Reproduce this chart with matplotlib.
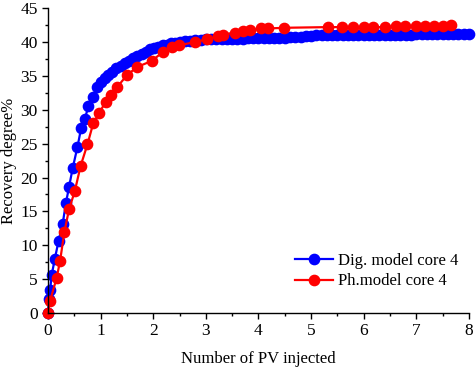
import numpy as np
import matplotlib.pyplot as plt
from matplotlib.ticker import MultipleLocator

plt.rcParams['font.family'] = ['Liberation Serif', 'DejaVu Serif']

# Dig. model core 4 (blue)
pv_dig = [0.0, 0.02, 0.04, 0.07, 0.13, 0.20, 0.28, 0.34, 0.40, 0.47, 0.56, 0.63,
          0.70, 0.77, 0.86, 0.94, 1.00, 1.08, 1.15, 1.22, 1.30, 1.38, 1.46, 1.54,
          1.62, 1.70, 1.78, 1.86, 1.94, 2.02, 2.10, 2.18, 2.26, 2.34, 2.42, 2.50,
          2.60, 2.70, 2.80, 2.90,
          3.0, 3.1, 3.2, 3.3, 3.4, 3.5, 3.6, 3.7, 3.8, 3.9, 4.0, 4.1, 4.2, 4.3,
          4.4, 4.5, 4.6, 4.7, 4.8, 4.9, 5.0, 5.1, 5.2, 5.3, 5.4, 5.5, 5.6, 5.7,
          5.8, 5.9, 6.0, 6.1, 6.2, 6.3, 6.4, 6.5, 6.6, 6.7, 6.8, 6.9, 7.0, 7.1,
          7.2, 7.3, 7.4, 7.5, 7.6, 7.7, 7.8, 7.9, 8.0]
rd_dig = [0.0, 2.0, 3.4, 5.6, 8.0, 10.6, 13.2, 16.2, 18.6, 21.4, 24.5, 27.3,
          28.7, 30.5, 31.9, 33.3, 34.1, 34.7, 35.2, 35.6, 36.1, 36.5, 36.9, 37.2,
          37.6, 38.0, 38.3, 38.6, 38.9, 39.1, 39.3, 39.5, 39.6, 39.8, 39.9, 40.0,
          40.1, 40.2, 40.3, 40.3,
          40.4, 40.4, 40.5, 40.5, 40.5, 40.5, 40.5, 40.5, 40.6, 40.6, 40.6, 40.6,
          40.6, 40.6, 40.6, 40.6, 40.7, 40.7, 40.8, 40.9, 40.9, 41.0, 41.0, 41.0,
          41.0, 41.0, 41.0, 41.0, 41.0, 41.0, 41.1, 41.1, 41.1, 41.1, 41.1, 41.1,
          41.1, 41.1, 41.1, 41.1, 41.2, 41.2, 41.2, 41.2, 41.2, 41.2, 41.2, 41.2,
          41.2, 41.2, 41.2]

# Ph.model core 4 (red)
pv_ph = [0.0, 0.04, 0.165, 0.23, 0.31, 0.40, 0.51, 0.62, 0.75, 0.86, 0.97, 1.10,
         1.20, 1.31, 1.50, 1.69, 1.97, 2.18, 2.35, 2.49, 2.79, 3.03, 3.24, 3.33,
         3.56, 3.71, 3.84, 4.04, 4.19, 4.49, 5.33, 5.58, 5.79, 6.01, 6.17, 6.41,
         6.62, 6.79, 7.00, 7.17, 7.33, 7.50, 7.66]
rd_ph = [0.0, 1.8, 5.2, 7.7, 11.9, 15.3, 18.0, 21.7, 24.9, 28.0, 29.5, 31.2,
         32.2, 33.3, 35.1, 36.3, 37.2, 38.5, 39.2, 39.5, 40.0, 40.4, 40.9, 41.1,
         41.4, 41.6, 41.7, 42.0, 42.0, 42.1, 42.2, 42.2, 42.2, 42.2, 42.2, 42.2,
         42.3, 42.3, 42.4, 42.4, 42.4, 42.4, 42.5]

fig = plt.figure(figsize=(4.77, 3.70), dpi=100, facecolor='white')
ax = fig.add_axes([0.1006, 0.154, 0.8824, 0.824])

ax.plot(pv_dig, rd_dig, 'o-', color='#0000ff', lw=1.6, ms=7.4,
        label='Dig. model core 4', clip_on=False)
ax.plot(pv_ph, rd_ph, 'o-', color='#ff0000', lw=1.6, ms=7.4,
        label='Ph.model core 4', clip_on=False)

ax.set_xlim(0, 8)
ax.set_ylim(0, 45)
ax.xaxis.set_major_locator(MultipleLocator(1))
ax.xaxis.set_minor_locator(MultipleLocator(0.5))
ax.yaxis.set_major_locator(MultipleLocator(5))
ax.yaxis.set_minor_locator(MultipleLocator(2.5))
for s in ['top', 'right']:
    ax.spines[s].set_visible(False)
for s in ['left', 'bottom']:
    ax.spines[s].set_linewidth(1.0)
ax.tick_params(axis='both', which='major', direction='out', length=4,
               width=1.0, labelsize=12.5)
ax.tick_params(axis='both', which='minor', direction='out', length=2.5,
               width=1.0)

ax.set_xlabel('Number of PV injected', fontsize=12, labelpad=8)
ax.set_ylabel('Recovery degree%', fontsize=12, labelpad=2)

ax.legend(loc='center left', bbox_to_anchor=(0.57, 0.137), frameon=False,
          fontsize=12, handlelength=2.3, handletextpad=0.3, labelspacing=0.25,
          borderaxespad=0)

fig.savefig('out.png', dpi=100)
